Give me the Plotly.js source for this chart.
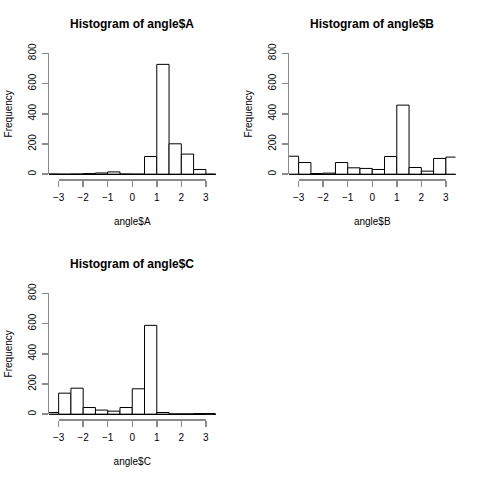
<!DOCTYPE html>
<html>
<head>
<meta charset="utf-8">
<script src="https://cdn.plot.ly/plotly-3.0.1.min.js"></script>
<style>html,body{margin:0;padding:0;background:#fff;}#chart{width:480px;height:480px;}</style>
</head>
<body>
<div id="chart"></div>
<script>
// Histogram bin edges (width 0.5)
var breaks = [-3.5, -3, -2.5, -2, -1.5, -1, -0.5, 0, 0.5, 1, 1.5, 2, 2.5, 3, 3.5];
// Counts per bin
var countsA = [1, 0, 1, 4, 8, 15, 1, 0, 117, 727, 201, 133, 31, 0];
var countsB = [119, 77, 4, 7, 77, 42, 38, 31, 117, 457, 44, 20, 104, 113];
var countsC = [11, 139, 172, 44, 27, 20, 44, 168, 588, 11, 2, 2, 4, 4];
var titles = ["Histogram of angle$A", "Histogram of angle$B", "Histogram of angle$C"];
var xLabels = ["angle$A", "angle$B", "angle$C"];
var yLabel = "Frequency";
var xTicks = [-3, -2, -1, 0, 1, 2, 3];
var yTicks = [0, 200, 400, 600, 800];

var W = 480, H = 480;
var xlim = [-Math.PI, Math.PI], ylim = [0, 800];
var ext = 0.04;
var xr = [xlim[0] - ext * (xlim[1] - xlim[0]), xlim[1] + ext * (xlim[1] - xlim[0])];
var yr = [ylim[0] - ext * (ylim[1] - ylim[0]), ylim[1] + ext * (ylim[1] - ylim[0])];

var panels = [
  {ox: 0, oy: 0, counts: countsA},
  {ox: 240, oy: 0, counts: countsB},
  {ox: 0, oy: 240, counts: countsC}
];

var mids = [], widths = [];
for (var i = 0; i < breaks.length - 1; i++) {
  mids.push((breaks[i] + breaks[i + 1]) / 2);
  widths.push(breaks[i + 1] - breaks[i]);
}

var font = "Liberation Sans, Arial, Helvetica, sans-serif";
var axisGray = "#8a8a8a";
var data = [];
var layout = {
  width: W, height: H,
  margin: {l: 0, r: 0, t: 0, b: 0},
  paper_bgcolor: "#fff", plot_bgcolor: "rgba(0,0,0,0)",
  showlegend: false,
  font: {family: font, color: "#000", size: 10},
  annotations: []
};

panels.forEach(function (p, k) {
  var L = p.ox + 49, R = p.ox + 215.5, T = p.oy + 48.5, B = p.oy + 179;
  var main = 2 * k + 1, tick = 2 * k + 2;
  var xm = "x" + main, ym = "y" + main, xt = "x" + tick, yt = "y" + tick;
  var xmKey = "xaxis" + (main === 1 ? "" : main), ymKey = "yaxis" + (main === 1 ? "" : main);
  var xtKey = "xaxis" + tick, ytKey = "yaxis" + tick;
  var xmRef = main === 1 ? "x" : xm, ymRef = main === 1 ? "y" : ym;

  var xd = [L / W, R / W], yd = [1 - B / H, 1 - T / H];
  function fx(v) { return xd[0] + (v - xr[0]) / (xr[1] - xr[0]) * (xd[1] - xd[0]); }
  function fy(v) { return yd[0] + (v - yr[0]) / (yr[1] - yr[0]) * (yd[1] - yd[0]); }

  layout[xmKey] = {domain: xd, range: xr, anchor: ymRef, showticklabels: false, showgrid: false,
    zeroline: false, showline: false, ticks: "", fixedrange: true};
  layout[ymKey] = {domain: yd, range: yr, anchor: xmRef, showticklabels: false, showgrid: false,
    zeroline: true, zerolinecolor: "#000", zerolinewidth: 1, showline: false, ticks: "", fixedrange: true};

  layout[xtKey] = {domain: [fx(xTicks[0]), fx(xTicks[xTicks.length - 1])],
    range: [xTicks[0], xTicks[xTicks.length - 1]], anchor: ymRef,
    tickmode: "array", tickvals: xTicks, ticks: "outside", ticklen: 6, tickwidth: 1.5,
    tickcolor: axisGray, showline: true, linecolor: axisGray, linewidth: 1.5,
    showgrid: false, zeroline: false, tickfont: {size: 10, color: "#000"}, ticklabelstandoff: 2,
    title: {text: xLabels[k], font: {size: 10, color: "#000"}, standoff: 16}, fixedrange: true};
  layout[ytKey] = {domain: [fy(yTicks[0]), fy(yTicks[yTicks.length - 1])],
    range: [yTicks[0], yTicks[yTicks.length - 1]], anchor: xmRef,
    tickmode: "array", tickvals: yTicks, ticks: "outside", ticklen: 6, tickwidth: 1.5,
    tickcolor: axisGray, showline: true, linecolor: axisGray, linewidth: 1.5, tickangle: -90,
    showgrid: false, zeroline: false, tickfont: {size: 10, color: "#000"}, ticklabelstandoff: 2,
    title: {text: yLabel, font: {size: 10, color: "#000"}, standoff: 12}, fixedrange: true};

  data.push({type: "bar", x: mids, y: p.counts, width: widths, xaxis: xmRef, yaxis: ymRef,
    marker: {color: "#fff", line: {color: "#000", width: 1}}, hoverinfo: "skip"});
  data.push({type: "scatter", mode: "markers", x: [], y: [], xaxis: xt, yaxis: ymRef, hoverinfo: "skip"});
  data.push({type: "scatter", mode: "markers", x: [], y: [], xaxis: xmRef, yaxis: yt, hoverinfo: "skip"});

  layout.annotations.push({text: "<b>" + titles[k] + "</b>", xref: "paper", yref: "paper",
    x: (L + R) / 2 / W, y: 1 - (p.oy + 24) / H, xanchor: "center", yanchor: "middle",
    showarrow: false, font: {size: 12, color: "#000", family: font}});
});

Plotly.newPlot("chart", data, layout, {staticPlot: true, displayModeBar: false});
</script>
</body>
</html>
